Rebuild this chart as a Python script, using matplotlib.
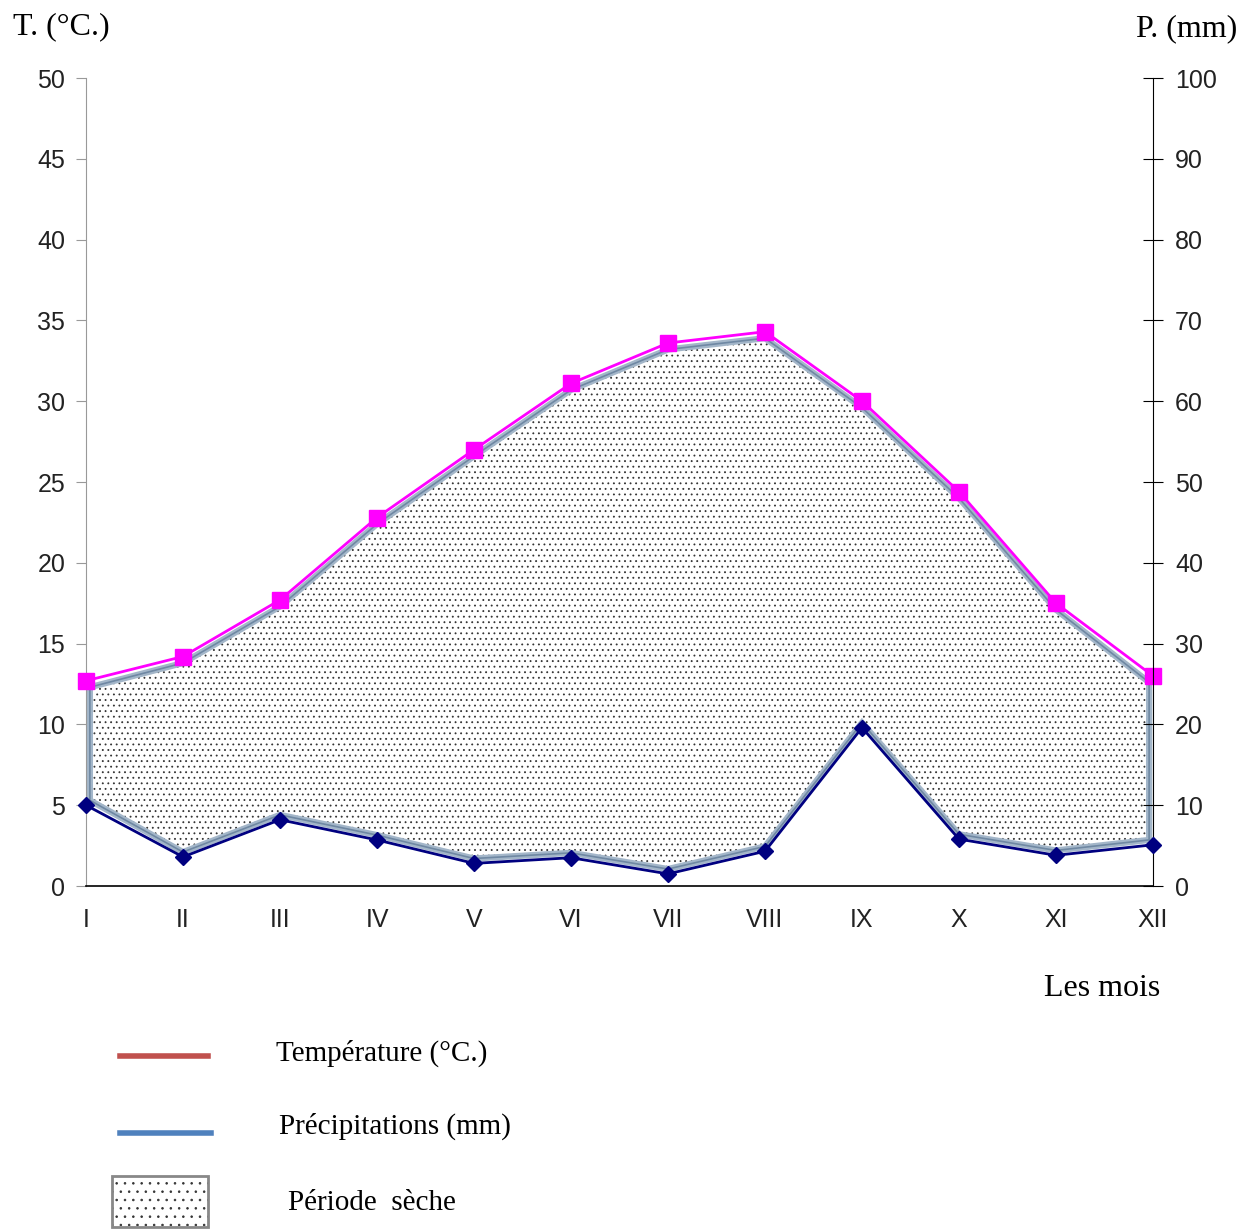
import numpy as np
import matplotlib
matplotlib.use("Agg")
import matplotlib.pyplot as plt
from matplotlib.lines import Line2D
from matplotlib.patches import Rectangle, Polygon

# Monthly data
months = ["I", "II", "III", "IV", "V", "VI", "VII", "VIII", "IX", "X", "XI", "XII"]
temperature = [12.7, 14.2, 17.7, 22.8, 27.0, 31.1, 33.6, 34.3, 30.0, 24.4, 17.5, 13.0]   # °C
precipitation = [10.0, 3.6, 8.2, 5.7, 2.8, 3.5, 1.5, 4.3, 19.6, 5.8, 3.8, 5.1]          # mm

plt.rcParams['hatch.linewidth'] = 0.6

W, H = 1249, 1229
fig = plt.figure(figsize=(W / 100, H / 100), dpi=100)
ax = fig.add_axes([86 / W, 1 - 886 / H, (1153 - 86) / W, (886 - 78) / H])
ax2 = ax.twinx()

x = np.arange(len(months))
T = np.array(temperature)
P = np.array(precipitation)

# dry period polygon (P = 2T), drawn just inside the two curves
xp = x.astype(float)
xp[0] += 0.04
xp[-1] -= 0.04
upper = T - 0.4
lower = P / 2 + 0.3
verts = np.column_stack([np.r_[xp, xp[::-1]], np.r_[upper, lower[::-1]]])
ax.add_patch(Polygon(verts, closed=True, facecolor='white', edgecolor='#333333',
                     hatch='...', linewidth=0, zorder=2))
ax.add_patch(Polygon(verts, closed=True, facecolor='none', edgecolor='#a3b6c9',
                     linewidth=4.5, zorder=2))
ax.add_patch(Polygon(verts, closed=True, facecolor='none', edgecolor='#6f88a3',
                     linewidth=1.2, zorder=2))

ax.plot(x, T, color='#ff00ff', lw=2, marker='s', ms=11, zorder=4, clip_on=False)
ax2.plot(x, P, color='#000080', lw=2, marker='D', ms=8, zorder=4, clip_on=False)

ax.set_xlim(0, 11)
ax.set_ylim(0, 50)
ax2.set_ylim(0, 100)
ax.set_yticks(np.arange(0, 51, 5))
ax2.set_yticks(np.arange(0, 101, 10))
ax.set_xticks(x)
ax.set_xticklabels(months)

for a in (ax, ax2):
    for s in a.spines.values():
        s.set_visible(False)
ax.spines['left'].set_visible(True)
ax.spines['left'].set_color('#999999')
ax.spines['bottom'].set_visible(True)
ax.spines['bottom'].set_color('black')
ax.spines['bottom'].set_linewidth(1.2)
ax2.spines['right'].set_visible(True)
ax2.spines['right'].set_color('black')

ax.tick_params(axis='y', direction='out', length=7, color='#999999', labelsize=18, pad=8)
ax.tick_params(axis='x', length=0, labelsize=18, pad=16)
ax2.tick_params(axis='y', direction='inout', length=14, color='black', labelsize=18, pad=9)
for lab in ax.get_xticklabels() + ax.get_yticklabels() + ax2.get_yticklabels():
    lab.set_fontfamily('Liberation Sans')
    lab.set_color('#222222')

serif = 'Liberation Serif'
fig.text(13 / W, 1 - 27 / H, "T. (°C.)", fontsize=23, family=serif, va='center', ha='left')
fig.text(1237 / W, 1 - 29 / H, "P. (mm)", fontsize=23, family=serif, va='center', ha='right')
fig.text(1160 / W, 1 - 989 / H, "Les mois", fontsize=23, family=serif, va='center', ha='right')

# legend
fig.add_artist(Line2D([120 / W, 208 / W], [1 - 1056 / H] * 2, color='#c0504d', lw=4,
                      transform=fig.transFigure))
fig.add_artist(Line2D([120 / W, 211 / W], [1 - 1133 / H] * 2, color='#4f81bd', lw=4,
                      transform=fig.transFigure))
fig.add_artist(Rectangle((112 / W, 1 - 1227 / H), 96 / W, 51 / H, facecolor='white',
                         edgecolor='#333333', hatch='..', lw=0, transform=fig.transFigure))
fig.add_artist(Rectangle((112 / W, 1 - 1227 / H), 96 / W, 51 / H, facecolor='none',
                         edgecolor='#888888', lw=2, transform=fig.transFigure))
fig.text(276 / W, 1 - 1053 / H, "Température (°C.)", fontsize=21, family=serif, va='center')
fig.text(279 / W, 1 - 1126 / H, "Précipitations (mm)", fontsize=21, family=serif, va='center')
fig.text(288 / W, 1 - 1203 / H, "Période  sèche", fontsize=21, family=serif, va='center')

fig.savefig("out.png", dpi=100)
